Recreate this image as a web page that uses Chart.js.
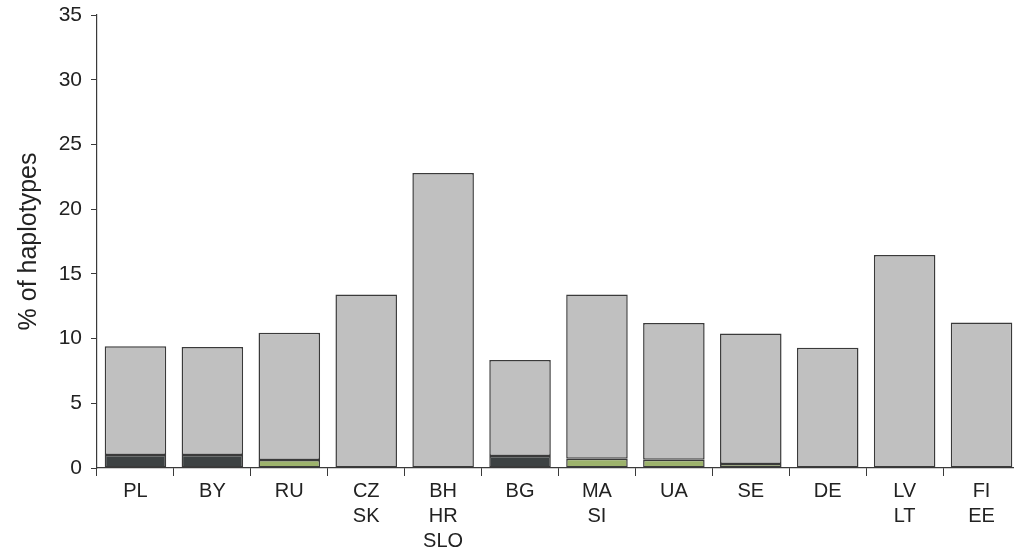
<!DOCTYPE html>
<html>
<head>
<meta charset="utf-8">
<script src="https://cdn.jsdelivr.net/npm/chart.js@4/dist/chart.umd.min.js"></script>
<style>
  html, body { margin: 0; padding: 0; background: #fff; overflow: hidden; }
  #wrap { width: 1024px; height: 550px; position: relative; }
</style>
</head>
<body>
<div id="wrap"><canvas id="c" width="1024" height="550"></canvas></div>
<script>
// Country groups along the x axis
const categories = ['PL', 'BY', 'RU', ['CZ', 'SK'], ['BH', 'HR', 'SLO'], 'BG', ['MA', 'SI'], 'UA', 'SE', 'DE', ['LV', 'LT'], ['FI', 'EE']];
// Total share of haplotypes per group (%)
const totalShare = [9.4, 9.35, 10.45, 13.4, 22.8, 8.35, 13.4, 11.2, 10.4, 9.3, 16.45, 11.25];
// Dark sub-lineage share (%)
const darkShare = [1.0, 1.0, null, null, null, 0.92, null, null, null, null, null, null];
// Green sub-lineage share (%)
const greenShare = [null, null, 0.62, null, null, null, 0.72, 0.64, 0.3, null, null, null];
// Y axis ticks
const yTicks = [0, 5, 10, 15, 20, 25, 30, 35];

const restShare = totalShare.map((t, i) => +(t - (darkShare[i] || 0) - (greenShare[i] || 0)).toFixed(3));

const edge = '#3a3a3a';
const txt = '#222222';
const family = '"Liberation Sans", Arial, sans-serif';

const common = { borderColor: edge, borderWidth: 1.5, borderSkipped: false, barPercentage: 0.8, categoryPercentage: 1.0 };

new Chart(document.getElementById('c'), {
  type: 'bar',
  data: {
    labels: categories,
    datasets: [
      Object.assign({ label: 'dark', data: darkShare, backgroundColor: '#3d4243' }, common),
      Object.assign({ label: 'green', data: greenShare, backgroundColor: '#9db36c' }, common),
      Object.assign({ label: 'other', data: restShare, backgroundColor: '#c0c0c0' }, common)
    ]
  },
  options: {
    responsive: false,
    animation: false,
    layout: { padding: { left: 0, right: 4, top: 15, bottom: 0 } },
    plugins: { legend: { display: false }, tooltip: { enabled: false } },
    scales: {
      x: {
        stacked: true,
        offset: true,
        grid: { offset: true, drawOnChartArea: false, drawTicks: true, tickLength: 8, color: edge, lineWidth: 1 },
        border: { display: true, color: edge, width: 1.2 },
        ticks: { color: txt, font: { family: family, size: 20, lineHeight: 1.25 }, padding: 3, maxRotation: 0, autoSkip: false },
        afterFit: s => { s.height = 82; s.paddingLeft = 0; s.paddingRight = 0; }
      },
      y: {
        stacked: true,
        min: 0,
        max: 35,
        afterBuildTicks: s => { s.ticks = yTicks.map(v => ({ value: v })); },
        grid: { drawOnChartArea: false, drawTicks: true, tickLength: 6, color: edge, lineWidth: 1 },
        border: { display: true, color: edge, width: 1.2 },
        ticks: { color: txt, font: { family: family, size: 21 }, padding: 9 },
        title: { display: true, text: '% of haplotypes', color: txt, font: { family: family, size: 25 }, padding: { top: 14, bottom: 0 } },
        afterFit: s => { s.width = 97; s.paddingTop = 0; s.paddingBottom = 0; }
      }
    }
  }
});
</script>
</body>
</html>
